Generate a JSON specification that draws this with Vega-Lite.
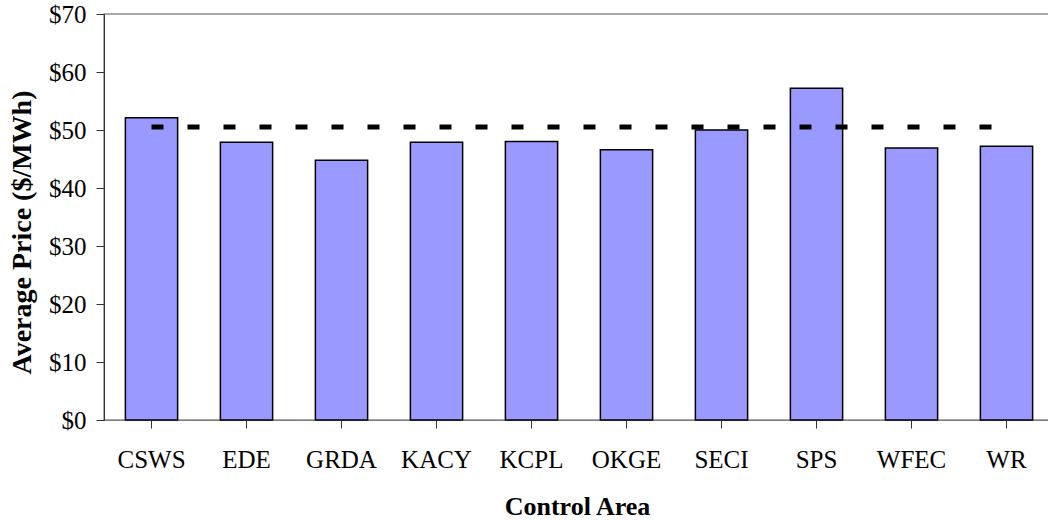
{
  "$schema": "https://vega.github.io/schema/vega-lite/v6.json",
  "width": 946,
  "height": 406,
  "autosize": {"type": "none"},
  "padding": {"left": 104, "top": 14, "right": 0, "bottom": 101},
  "background": "white",
  "config": {
    "view": {"stroke": "#8c8c8c", "strokeWidth": 1.5},
    "font": "Liberation Serif",
    "axis": {"grid": false, "labelFont": "Liberation Serif", "titleFont": "Liberation Serif", "labelColor": "black", "titleColor": "black", "domainColor": "#333333", "tickColor": "#333333", "tickSize": 8, "labelFontSize": 25, "titleFontSize": 25}
  },
  "datasets": {
    "prices": [
      {"area": "CSWS", "price": 52.1},
      {"area": "EDE", "price": 47.9},
      {"area": "GRDA", "price": 44.8},
      {"area": "KACY", "price": 47.9},
      {"area": "KCPL", "price": 48.0},
      {"area": "OKGE", "price": 46.6},
      {"area": "SECI", "price": 50.0},
      {"area": "SPS", "price": 57.2},
      {"area": "WFEC", "price": 46.9},
      {"area": "WR", "price": 47.2}
    ],
    "avg": [
      {"start": "CSWS", "end": "WR", "avg": 50.5}
    ]
  },
  "layer": [
    {
      "data": {"name": "prices"},
      "mark": {"type": "bar", "fill": "#9999FF", "stroke": "black", "strokeWidth": 1.5},
      "encoding": {
        "x": {
          "field": "area", "type": "nominal", "sort": null,
          "scale": {"range": [0, 950], "paddingInner": 0.45, "paddingOuter": 0.225},
          "axis": {"labelAngle": 0, "labelPadding": 19, "title": "Control Area", "titleFontWeight": "bold", "titleFontSize": 26, "titlePadding": 21, "titleX": 473, "domainColor": "#7f7f7f"}
        },
        "y": {
          "field": "price", "type": "quantitative",
          "scale": {"domain": [0, 70]},
          "axis": {"values": [0, 10, 20, 30, 40, 50, 60, 70], "format": "$.0f", "labelPadding": 10, "title": "Average Price ($/MWh)", "titleFontWeight": "bold", "titleFontSize": 28, "titlePadding": 12, "titleY": 218}
        }
      }
    },
    {
      "data": {"name": "avg"},
      "mark": {"type": "rule", "color": "black", "strokeWidth": 5, "strokeDash": [12, 24]},
      "encoding": {
        "x": {"field": "start", "type": "nominal"},
        "x2": {"field": "end"},
        "y": {"field": "avg", "type": "quantitative"}
      }
    }
  ]
}
